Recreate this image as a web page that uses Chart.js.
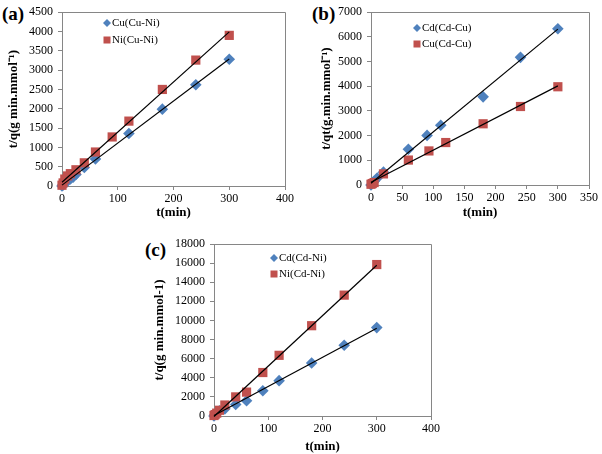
<!DOCTYPE html>
<html>
<head>
<meta charset="utf-8">
<script src="https://cdn.jsdelivr.net/npm/chart.js@4.4.1/dist/chart.umd.min.js"></script>
<style>
  html, body { margin: 0; padding: 0; background: #fff; overflow: hidden; }
  body { width: 602px; height: 454px; position: relative; }
  .panel { position: absolute; }
  .letra { position: absolute; font-family: 'Liberation Serif', serif; font-weight: bold; font-size: 19px; color: #000; line-height: 1; }
</style>
</head>
<body>
<div class="letra" style="left:2px; top:4px;">(a)</div>
<div class="letra" style="left:312px; top:4px;">(b)</div>
<div class="letra" style="left:145px; top:240px;">(c)</div>
<div class="panel" style="left:0px; top:0px; width:300px; height:222px;"><canvas id="graficaA"></canvas></div>
<div class="panel" style="left:300px; top:0px; width:302px; height:222px;"><canvas id="graficaB"></canvas></div>
<div class="panel" style="left:130px; top:222px; width:320px; height:232px;"><canvas id="graficaC"></canvas></div>
<script>
// Datos (t en min, t/q)
// (a) sistema Cu-Ni
const tiempoCuA = [0, 2, 5, 10, 15, 20, 25, 40, 60, 120, 180, 240, 300];
const valorCuA  = [0, 30, 70, 130, 180, 230, 300, 480, 700, 1360, 1990, 2620, 3280];
const tiempoNiA = [0, 2, 5, 10, 15, 25, 40, 60, 90, 120, 180, 240, 300];
const valorNiA  = [20, 80, 180, 260, 320, 420, 600, 880, 1270, 1680, 2500, 3260, 3900];

// (b) sistema Cd-Cu
const tiempoCdB = [0, 5, 10, 20, 60, 90, 112, 180, 240, 300];
const valorCdB  = [0, 150, 280, 520, 1450, 2010, 2420, 3570, 5170, 6330];
const tiempoCuB = [0, 2, 5, 20, 60, 93, 120, 180, 240, 300];
const valorCuB  = [30, 60, 100, 450, 1010, 1380, 1720, 2480, 3180, 3980];

// (c) sistema Cd-Ni
const tiempoCdC = [0, 2, 5, 10, 20, 40, 60, 90, 120, 180, 240, 300];
const valorCdC  = [0, 150, 350, 550, 750, 1200, 1600, 2650, 3700, 5550, 7400, 9250];
const tiempoNiC = [0, 2, 5, 10, 20, 40, 60, 90, 120, 180, 240, 300];
const valorNiC  = [50, 150, 300, 600, 1150, 2000, 2500, 4550, 6350, 9450, 12650, 15850];

// Etiquetas de las series
const seriesA = ['Cu(Cu-Ni)', 'Ni(Cu-Ni)'];
const seriesB = ['Cd(Cd-Cu)', 'Cu(Cd-Cu)'];
const seriesC = ['Cd(Cd-Ni)', 'Ni(Cd-Ni)'];

// Ejes
const ejeXA = { max: 400, step: 100 };
const ejeYA = { max: 4500, step: 500 };
const ejeXB = { max: 350, step: 50 };
const ejeYB = { max: 7000, step: 1000 };
const ejeXC = { max: 400, step: 100 };
const ejeYC = { max: 18000, step: 2000 };

const AZUL = '#4F81BD';
const ROJO = '#C0504D';
const GRIS = '#868686';
const FUENTE = "'Liberation Serif', 'Times New Roman', serif";

//Armando los puntos {x, y}
function puntos(ts, vs) {
    return ts.map(function(t, i){ return {x: t, y: vs[i]}; });
}

//Recta de minimos cuadrados (linea de tendencia)
function tendencia(ts, vs) {
    const n = ts.length;
    let sx = 0, sy = 0, sxx = 0, sxy = 0;
    for (let i = 0; i < n; i++) {
        sx += ts[i]; sy += vs[i];
        sxx += ts[i] * ts[i]; sxy += ts[i] * vs[i];
    }
    const m = (n * sxy - sx * sy) / (n * sxx - sx * sx);
    const b = (sy - m * sx) / n;
    const x0 = Math.min.apply(null, ts), x1 = Math.max.apply(null, ts);
    return [{x: x0, y: m * x0 + b}, {x: x1, y: m * x1 + b}];
}

//Marco gris del area de trazado (arriba y derecha)
const marcoPlugin = {
    id: 'marco',
    beforeDatasetsDraw(chart) {
        const a = chart.chartArea;
        const ctx = chart.ctx;
        ctx.save();
        ctx.strokeStyle = GRIS;
        ctx.lineWidth = 1;
        ctx.beginPath();
        ctx.moveTo(Math.round(a.left), Math.round(a.top) + 0.5);
        ctx.lineTo(Math.round(a.right) + 0.5, Math.round(a.top) + 0.5);
        ctx.lineTo(Math.round(a.right) + 0.5, Math.round(a.bottom));
        ctx.stroke();
        ctx.restore();
    }
};

//Leyenda dibujada dentro del area de trazado
const leyendaPlugin = {
    id: 'leyendaExcel',
    afterDraw(chart, args, opts) {
        const ctx = chart.ctx;
        ctx.save();
        ctx.font = opts.size + 'px ' + FUENTE;
        ctx.textBaseline = 'middle';
        ctx.fillStyle = '#000';
        opts.items.forEach(function(it, i){
            const x = opts.x, y = opts.y + i * opts.gap;
            ctx.fillStyle = it.color;
            ctx.beginPath();
            if (it.shape === 'diamond') {
                ctx.moveTo(x, y - 4); ctx.lineTo(x + 4, y);
                ctx.lineTo(x, y + 4); ctx.lineTo(x - 4, y);
                ctx.closePath(); ctx.fill();
            } else {
                ctx.fillRect(x - 3.5, y - 3.5, 7, 7);
            }
            ctx.fillStyle = '#000';
            ctx.fillText(it.text, x + 5, y + 0.5);
        });
        ctx.restore();
    }
};

//Etiquetas sin separador de miles
function sinMiles(valor) {
    return String(valor);
}

function crearGrafica(idCanvas, cfg) {
    const dispersion = function(label, ts, vs, color, forma, radio, orden) {
        return {
            type: 'scatter',
            label: label,
            data: puntos(ts, vs),
            pointStyle: forma,
            pointRadius: radio,
            pointHoverRadius: radio,
            backgroundColor: color,
            borderColor: color,
            borderWidth: 0,
            clip: false,
            order: orden
        };
    };
    const recta = function(ts, vs) {
        return {
            type: 'line',
            data: tendencia(ts, vs),
            borderColor: '#000',
            borderWidth: 1.2,
            pointRadius: 0,
            fill: false,
            clip: false,
            order: 0
        };
    };

    const config = {
        type: 'scatter',
        data: {
            datasets: [
                recta(cfg.t1, cfg.v1),
                recta(cfg.t2, cfg.v2),
                dispersion(cfg.series[0], cfg.t1, cfg.v1, AZUL, 'rectRot', 5.8, 2),
                dispersion(cfg.series[1], cfg.t2, cfg.v2, ROJO, 'rect', 6.5, 1)
            ]
        },
        options: {
            responsive: true,
            maintainAspectRatio: false,
            animation: false,
            layout: { padding: cfg.padding },
            plugins: {
                legend: { display: false },
                tooltip: { enabled: false },
                leyendaExcel: {
                    x: cfg.leyenda.x, y: cfg.leyenda.y, gap: cfg.leyenda.gap, size: cfg.leyenda.size,
                    items: [
                        {text: cfg.series[0], color: AZUL, shape: 'diamond'},
                        {text: cfg.series[1], color: ROJO, shape: 'square'}
                    ]
                }
            },
            scales: {
                x: {
                    type: 'linear',
                    min: 0, max: cfg.ejeX.max,
                    afterFit: function(scale){ scale.height = cfg.altoX; },
                    ticks: { stepSize: cfg.ejeX.step, color: '#000', padding: 2, maxRotation: 0,
                             callback: sinMiles,
                             font: { family: FUENTE, size: 12 } },
                    grid: { display: true, drawOnChartArea: false, drawTicks: true, tickLength: 4, color: GRIS },
                    border: { display: true, color: GRIS },
                    title: { display: true, text: 't(min)', color: '#000',
                             font: { family: FUENTE, size: 13, weight: 'bold', lineHeight: 1 },
                             padding: { top: 0, bottom: cfg.padTituloX } }
                },
                y: {
                    type: 'linear',
                    min: 0, max: cfg.ejeY.max,
                    afterFit: function(scale){ scale.width = cfg.anchoY; },
                    ticks: { stepSize: cfg.ejeY.step, color: '#000', padding: 5,
                             callback: sinMiles,
                             font: { family: FUENTE, size: 12 } },
                    grid: { display: true, drawOnChartArea: false, drawTicks: true, tickLength: 4, color: GRIS },
                    border: { display: true, color: GRIS },
                    title: { display: true, text: cfg.tituloY, color: '#000',
                             font: { family: FUENTE, size: 13, weight: 'bold', lineHeight: 1 },
                             padding: { top: cfg.padTituloY, bottom: 0 } }
                }
            }
        },
        plugins: [marcoPlugin, leyendaPlugin]
    };

    return new Chart(document.getElementById(idCanvas), config);
}

//Grafica (a)
crearGrafica('graficaA', {
    t1: tiempoCuA, v1: valorCuA, t2: tiempoNiA, v2: valorNiA,
    series: seriesA, ejeX: ejeXA, ejeY: ejeYA,
    tituloY: 't/q(g min.mmol\u207B\u00B9)',
    padding: { top: 7, right: 15, left: 0, bottom: 0 },
    anchoY: 62, altoX: 36, padTituloX: 2.5, padTituloY: 7.5,
    leyenda: { x: 107, y: 23, gap: 17, size: 11 }
});

//Grafica (b)
crearGrafica('graficaB', {
    t1: tiempoCdB, v1: valorCdB, t2: tiempoCuB, v2: valorCuB,
    series: seriesB, ejeX: ejeXB, ejeY: ejeYB,
    tituloY: 't/qt(g.min.mmol\u207B\u00B9)',
    padding: { top: 10, right: 13, left: 0, bottom: 0 },
    anchoY: 71, altoX: 37, padTituloX: 2.5, padTituloY: 20.5,
    leyenda: { x: 117, y: 28, gap: 16, size: 11 }
});

//Grafica (c)
crearGrafica('graficaC', {
    t1: tiempoCdC, v1: valorCdC, t2: tiempoNiC, v2: valorNiC,
    series: seriesC, ejeX: ejeXC, ejeY: ejeYC,
    tituloY: 't/q(g min.mmol-1)',
    padding: { top: 22, right: 19, left: 0, bottom: 0 },
    anchoY: 84, altoX: 38, padTituloX: 0.5, padTituloY: 23.5,
    leyenda: { x: 144, y: 36, gap: 16, size: 11 }
});
</script>
</body>
</html>
